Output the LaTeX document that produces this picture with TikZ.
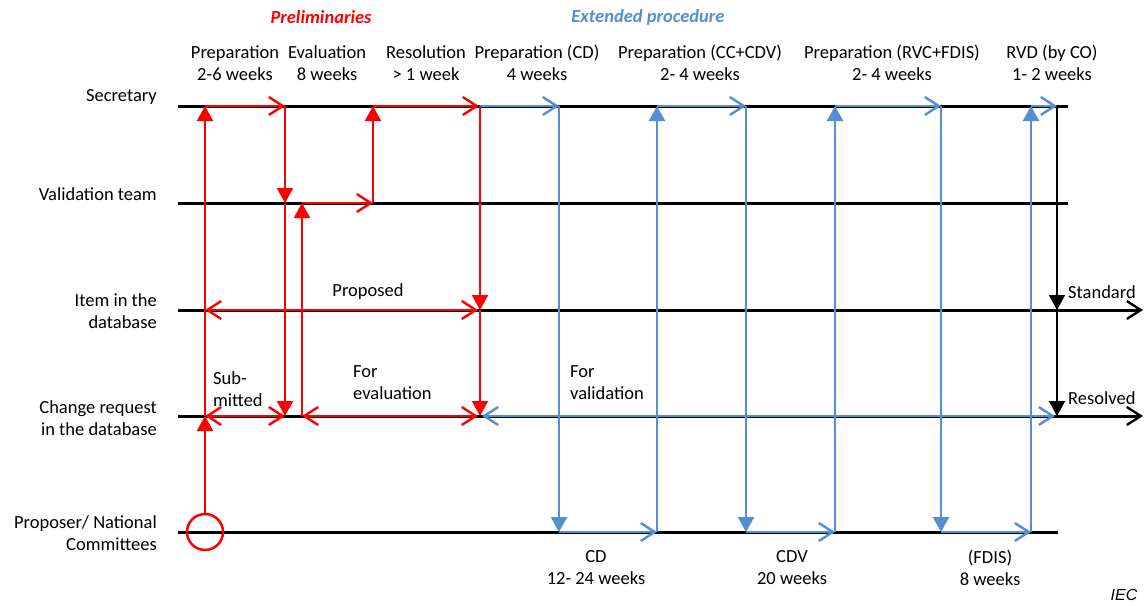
\documentclass[tikz,border=0pt]{standalone}
\usepackage{fontspec}
\setmainfont{Carlito}
\newfontfamily\arialfont{Liberation Sans}
\usetikzlibrary{arrows.meta}
\definecolor{ired}{RGB}{255,0,0}
\definecolor{iblue}{RGB}{85,142,213}
\begin{document}
\begin{tikzpicture}[x=1pt,y=-1pt,
  tri/.tip={Triangle[length=15pt,width=16pt]},
  barb/.tip={Straight Barb[length=14pt,width=18pt,line width=2.4pt]},
  lane/.style={line width=3pt, black},
  redln/.style={line width=2.2pt, ired},
  blueln/.style={line width=2.2pt, iblue},
  blackln/.style={line width=2pt, black},
  txt/.style={font=\fontsize{18.5}{22}\selectfont, inner sep=0pt, align=center},
  lefttxt/.style={txt, anchor=east, align=right},
  phase/.style={font=\fontsize{18.5}{22}\selectfont\bfseries\itshape, inner sep=0pt}
]
\fill[white] (0,0) rectangle (1145,605);
% coordinates
\foreach \c/\x in {O/178,A/205,B/285,C/302,D/373,E/480,F/559,G/657,H/746,I/835,J/941,K/1031,L/1057,Z/1068,Q/1058,R/1143}
  \foreach \r/\y in {S/106,V/203,I/310,C/416,P/532}
    \coordinate (\c\r) at (\x,\y);
% lanes
\draw[lane] (OS) -- (ZS);
\draw[lane] (OV) -- (ZV);
\draw[lane,-barb] (OI) -- (RI);
\draw[lane,-barb] (OC) -- (RC);
\draw[lane] (OP) -- (QP);
% black final arrows
\draw[blackln,-tri] (LS) -- (LI);
\draw[blackln,-tri] (LI) -- (LC);
% blue
\draw[blueln,barb-barb] ([xshift=2pt]EC) -- ([xshift=-2pt]LC);
\draw[blueln,-barb] (ES) -- (FS);
\draw[blueln,-tri] (FS) -- (FP);
\draw[blueln,-barb] (FP) -- (GP);
\draw[blueln,-tri] (GP) -- (GS);
\draw[blueln,-barb] (GS) -- (HS);
\draw[blueln,-tri] (HS) -- (HP);
\draw[blueln,-barb] (HP) -- (IP);
\draw[blueln,-tri] (IP) -- (IS);
\draw[blueln,-barb] (IS) -- (JS);
\draw[blueln,-tri] (JS) -- (JP);
\draw[blueln,-barb] (JP) -- (KP);
\draw[blueln,-tri] (KP) -- (KS);
\draw[blueln,-barb] (KS) -- (LS);
% red
\node[circle, draw=ired, line width=2.5pt, minimum size=36pt, inner sep=0pt] (circ) at (AP) {};
\draw[redln,-tri] (circ.north) -- (AC);
\draw[redln,-tri] (AC) -- (AS);
\draw[redln,-barb] (AS) -- (BS);
\draw[redln,-tri] (BS) -- (BV);
\draw[redln,-tri] (BV) -- (BC);
\draw[redln,-tri] (CC) -- (CV);
\draw[redln,-barb] (CV) -- (DV);
\draw[redln,-tri] (DV) -- (DS);
\draw[redln,-barb] (DS) -- ([xshift=-1pt]ES);
\draw[redln,-tri] (ES) -- (EI);
\draw[redln,-tri] (EI) -- (EC);
\draw[redln,barb-barb] (AI) -- ([xshift=-2pt]EI);
\draw[redln,barb-barb] (AC) -- (BC);
\draw[redln,barb-barb] (CC) -- ([xshift=-2pt]EC);
% phase titles
\node[phase, text=ired] (prelim) at (321,17) {Preliminaries};
\node[phase, text=iblue] (ext) at (648,17) {Extended procedure};
% headers
\node[txt] (h1) at (235,63) {Preparation\\2-6 weeks};
\node[txt] (h2) at (327,63) {Evaluation\\8 weeks};
\node[txt] (h3) at (426,63) {Resolution\\> 1 week};
\node[txt] (h4) at (537,63) {Preparation (CD)\\4 weeks};
\node[txt] (h5) at (700,63) {Preparation (CC+CDV)\\2- 4 weeks};
\node[txt] (h6) at (892,63) {Preparation (RVC+FDIS)\\2- 4 weeks};
\node[txt] (h7) at (1052,63) {RVD (by CO)\\1- 2 weeks};
% lane labels
\node[lefttxt] (l1) at (157,97) {Secretary};
\node[lefttxt] (l2) at (157,194) {Validation team};
\node[lefttxt] (l3) at (157,311) {Item in the\\database};
\node[lefttxt] (l4) at (157,418) {Change request\\in the database};
\node[lefttxt] (l5) at (157,533) {Proposer/ National\\Committees};
% state labels
\node[txt] (proposed) at (368,292) {Proposed};
\node[txt, anchor=west, align=left] (sub) at (213,389) {Sub-\\mitted};
\node[txt, anchor=west, align=left] (foreval) at (353,383) {For\\evaluation};
\node[txt, anchor=west, align=left] (forval) at (570,383) {For\\validation};
\node[txt, anchor=west] (std) at (1068,292) {Standard};
\node[txt, anchor=west] (res) at (1068,398) {Resolved};
% bottom labels
\node[txt] (b1) at (596,568) {CD\\12- 24 weeks};
\node[txt] (b2) at (792,568) {CDV\\20 weeks};
\node[txt] (b3) at (990,568) {(FDIS)\\8 weeks};
\node[font=\arialfont\itshape\fontsize{16}{18}\selectfont, inner sep=0pt] (iec) at (1124,595) {IEC};
\end{tikzpicture}
\end{document}
